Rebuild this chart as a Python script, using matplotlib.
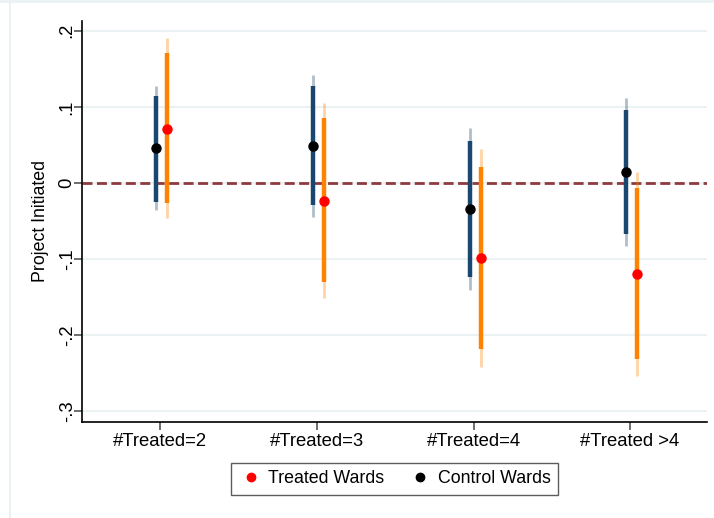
import numpy as np
import matplotlib.pyplot as plt
from matplotlib.lines import Line2D

plt.rcParams['font.family'] = ['Liberation Sans', 'DejaVu Sans']

# groups on the x axis
groups = ["#Treated=2", "#Treated=3", "#Treated=4", "#Treated >4"]

# control wards: point estimate, 90% and 95% bounds
control_est = [0.046, 0.049, -0.034, 0.014]
control_lo90 = [-0.025, -0.029, -0.124, -0.067]
control_hi90 = [0.114, 0.127, 0.055, 0.096]
control_lo95 = [-0.036, -0.044, -0.141, -0.083]
control_hi95 = [0.128, 0.142, 0.072, 0.112]

# treated wards
treated_est = [0.071, -0.023, -0.098, -0.120]
treated_lo90 = [-0.026, -0.130, -0.218, -0.231]
treated_hi90 = [0.171, 0.085, 0.021, -0.007]
treated_lo95 = [-0.046, -0.151, -0.242, -0.254]
treated_hi95 = [0.190, 0.105, 0.045, 0.014]

yticks = [0.2, 0.1, 0, -0.1, -0.2, -0.3]
ytick_labels = [".2", ".1", "0", "-.1", "-.2", "-.3"]

navy = "#1a476f"
orange = "#ff8200"
grid_col = "#eaf2f3"

fig = plt.figure(figsize=(7.14, 5.18), dpi=100)
fig.patch.set_facecolor("white")
ax = fig.add_axes([0.1148, 0.1853, 0.8752, 0.7742])

x = np.arange(1, len(groups) + 1)
xc = x - 0.025
xt = x + 0.045


def draw_ci(ax, xs, est, lo90, hi90, lo95, hi95, col, dot):
    ax.vlines(xs, lo95, hi95, color=col, alpha=0.35, lw=2.0, zorder=3)
    ax.vlines(xs, lo90, hi90, color=col, lw=3.2, zorder=4)
    ax.plot(xs, est, "o", color=dot, ms=6.5, mec=dot, zorder=5)


draw_ci(ax, xc, control_est, control_lo90, control_hi90,
        control_lo95, control_hi95, navy, "black")
draw_ci(ax, xt, treated_est, treated_lo90, treated_hi90,
        treated_lo95, treated_hi95, orange, "red")

ax.axhline(0, color="#8f3a3d", lw=2.0, ls=(0, (3.6, 1.6)), zorder=2)

ax.set_xlim(0.5, 4.49)
ax.set_ylim(-0.314, 0.213)
ax.set_yticks(yticks)
ax.set_yticklabels(ytick_labels, rotation=90, va="center")
ax.set_xticks(x)
ax.set_xticklabels(groups)
ax.yaxis.grid(True, color=grid_col, lw=1.5, zorder=0)
ax.set_axisbelow(True)
ax.tick_params(axis="both", labelsize=13.3, color="#555555", length=6,
               width=1.2)
ax.tick_params(axis="x", pad=2)
ax.tick_params(axis="y", pad=-1.5)
for s in ["top", "right"]:
    ax.spines[s].set_visible(False)
for s in ["left", "bottom"]:
    ax.spines[s].set_linewidth(1.2)
ax.set_ylabel("Project Initiated", fontsize=12.8, labelpad=7)

handles = [
    Line2D([], [], marker="o", ls="none", color="red", ms=6),
    Line2D([], [], marker="o", ls="none", color="black", ms=6),
]
leg = ax.legend(handles, ["Treated Wards", "Control Wards"], ncol=2,
                loc="upper center", bbox_to_anchor=(0.5, -0.102),
                frameon=True, fancybox=False, fontsize=12.8,
                handletextpad=0.3, columnspacing=1.3, borderpad=0.42,
                handlelength=1.4, borderaxespad=0.0)
leg.get_frame().set_edgecolor("#333333")
leg.get_frame().set_linewidth(1.0)

# faint outer frame of the graph region
fig.add_artist(Line2D([0, 1], [0.998, 0.998], transform=fig.transFigure,
                      color=grid_col, lw=2))
fig.add_artist(Line2D([0.0145, 0.0145], [0, 1], transform=fig.transFigure,
                      color=grid_col, lw=1.5))

fig.savefig("out.png", dpi=100)
